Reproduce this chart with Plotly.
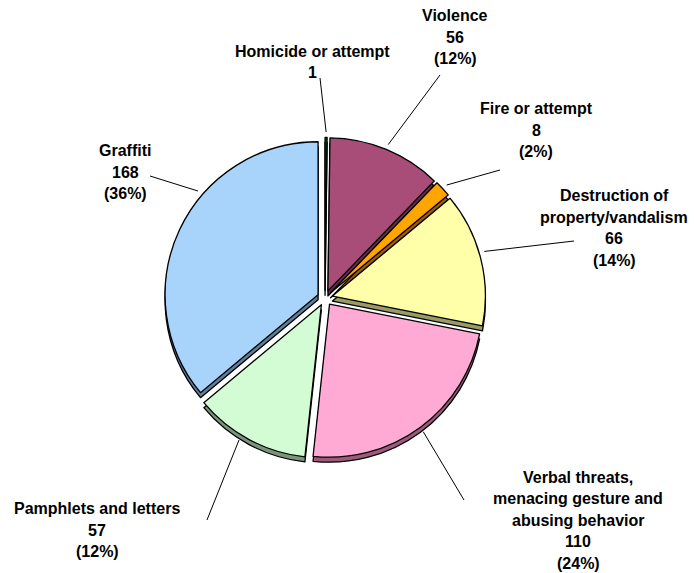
import math
import plotly.graph_objects as go

# ---- data ----
categories = ["Homicide or attempt", "Violence", "Fire or attempt",
              "Destruction of property/vandalism",
              "Verbal threats, menacing gesture and abusing behavior",
              "Pamphlets and letters", "Graffiti"]
values = [1, 56, 8, 66, 110, 57, 168]
label_lines = [
    ["Homicide or attempt"],
    ["Violence"],
    ["Fire or attempt"],
    ["Destruction of", "property/vandalism"],
    ["Verbal threats,", "menacing gesture and", "abusing behavior"],
    ["Pamphlets and letters"],
    ["Graffiti"],
]

# ---- styling / layout ----
W, H = 698, 573
OFF = 8                         # page body margin of the browser
FW, FH = W - OFF, H - OFF       # figure size
colors = ["#0b5a1e", "#a84c78", "#ffa500", "#ffffaa", "#ffaad4", "#d4fcd4", "#a8d4fc"]
depth_colors = ["#003312", "#6a2a4a", "#a05a00", "#9a9a66", "#9c5a7c", "#7a967a", "#5f7f9f"]
pull = 0.05
cx, cy, r = 325, 298, 153      # pixel centre / radius of the pie (screen coords)
depth = 5                      # px of 3D thickness
label_pos = [(312, 62), (455, 37), (536, 130), (614, 228), (578, 520), (97, 530), (125, 172)]
leader_out = [(320, 78), (440, 75), (500, 170), (574, 241), (464, 500), (207, 520), (150, 176)]
leader_angle_shift = [0, 0, 0, -2, 0, 3, 15]
leader_r = 166
line_h = 21.5
font = dict(family="Liberation Sans, Arial, sans-serif", size=16, color="black")

total = sum(values)
half = r * (1 + pull)


def px(x):
    return (x - OFF) / FW


def py(y):
    return 1 - (y - OFF) / FH


def dom(ycenter):
    return dict(x=[px(cx - half), px(cx + half)],
                y=[py(ycenter + half), py(ycenter - half)])


fig = go.Figure()
common = dict(labels=categories, values=values, sort=False, direction="clockwise",
              rotation=0, pull=[pull] * len(values), textinfo="none",
              hoverinfo="label+value+percent", showlegend=False)
fig.add_trace(go.Pie(**common, domain=dom(cy + depth),
                     marker=dict(colors=depth_colors, line=dict(color="black", width=1.3))))
fig.add_trace(go.Pie(**common, domain=dom(cy),
                     marker=dict(colors=colors, line=dict(color="black", width=1.3))))

annotations = []
shapes = []
cum = 0
for i, v in enumerate(values):
    mid = (cum + v / 2) / total * 360 + leader_angle_shift[i]
    cum += v
    a = math.radians(mid)
    ix = cx + leader_r * math.sin(a)
    iy = cy - leader_r * math.cos(a)
    ox, oy = leader_out[i]
    shapes.append(dict(type="line", xref="paper", yref="paper",
                       x0=px(ix), y0=py(iy), x1=px(ox), y1=py(oy),
                       line=dict(color="black", width=1)))
    pct = round(v / total * 100)
    lines = label_lines[i] + [str(v)]
    if pct > 0:
        lines.append(f"({pct}%)")
    n = len(lines)
    lx, ly = label_pos[i]
    for k, t in enumerate(lines):
        yy = ly + (k - (n - 1) / 2) * line_h
        annotations.append(dict(x=px(lx), y=py(yy), xref="paper", yref="paper",
                                text=f"<b>{t}</b>", showarrow=False, font=font,
                                xanchor="center", yanchor="middle"))

fig.update_layout(width=FW, height=FH, margin=dict(l=0, r=0, t=0, b=0),
                  paper_bgcolor="white", plot_bgcolor="white",
                  annotations=annotations, shapes=shapes)
fig.write_html("out.html")
